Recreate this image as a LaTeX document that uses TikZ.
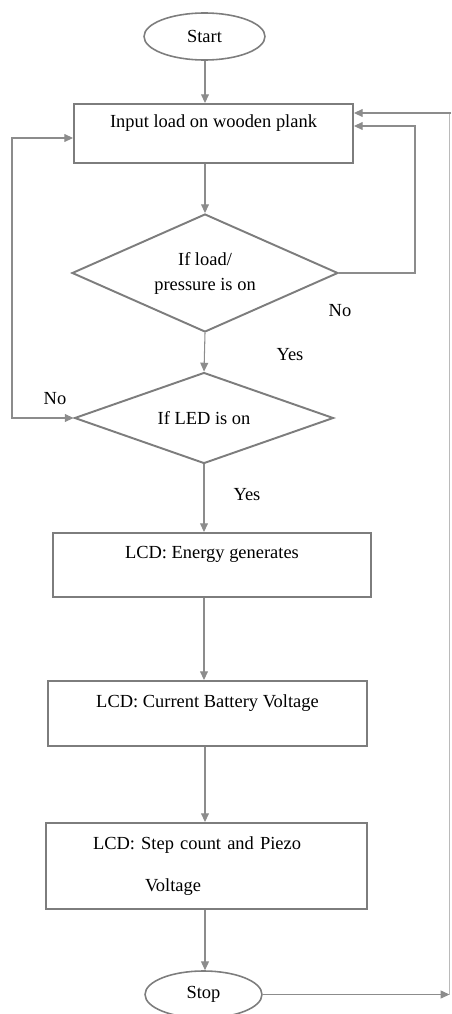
\documentclass[tikz,border=0pt]{standalone}
\usepackage{fontspec}
\setmainfont{Liberation Serif}
\usetikzlibrary{shapes.geometric,arrows.meta}
\definecolor{linegray}{RGB}{140,140,140}
\definecolor{boxgray}{RGB}{125,125,125}
\begin{document}
\begin{tikzpicture}[x=0.02cm, y=-0.02cm,
	font=\fontsize{10.5}{12.6}\selectfont,
	term/.style={draw=boxgray, line width=0.9pt, ellipse, minimum width=24.2mm, minimum height=9.4mm, inner sep=0pt},
	box/.style={draw=boxgray, line width=1.1pt, rectangle, inner ysep=0pt},
	test/.style={draw=boxgray, line width=1.1pt, diamond, aspect=2.25, inner sep=0pt, align=center},
	flow/.style={draw=linegray, line width=0.6pt, -{Triangle[length=5pt,width=4.5pt]}},
	both/.style={draw=linegray, line width=0.6pt, {Triangle[length=5pt,width=4.5pt]}-{Triangle[length=5pt,width=4.5pt]}}
]
\useasboundingbox (0,0) rectangle (451,1014);
\node[term] (0) at (204.5, 36.5){Start};
\node[box, minimum width=55.8mm, text height=4.6mm, text depth=7.2mm] (1) at (213.5, 133.5){Input load on wooden plank};
\node[test, minimum width=53.2mm, minimum height=23.6mm] (2) at (205, 273){If load/\\[1.6pt]pressure is on};
\node[test, minimum width=51.8mm, minimum height=18.2mm] (3) at (204, 418){If LED is on};
\node[box, minimum width=63.6mm, text height=5mm, text depth=7.8mm] (4) at (212, 565){LCD: Energy generates};
\node[box, minimum width=63.8mm, text height=5.2mm, text depth=7.8mm] (5) at (207.5, 713.5){LCD: Current Battery Voltage};
\node[box, minimum height=17.2mm, inner xsep=9.4mm, text width=45.4mm, align=left] (6) at (206.5, 866){LCD: Step count and Piezo\\[11.3pt]\hspace*{10.4mm}Voltage};
\node[term, minimum width=23.4mm] (7) at (203.5, 994.5){Stop};
\node (8) at (340, 311){No};
\node (9) at (290, 355){Yes};
\node (10) at (55, 399){No};
\node (11) at (247, 495){Yes};
\coordinate (a) at (415, 126);
\coordinate (b) at (12, 138);
\coordinate (c) at (449.5, 113);
\draw[flow] (2.north |- 0.south) -- (2.north |- 1.north);
\draw[flow] (2.north |- 1.south) -- (2.north);
\draw[flow] (2.south) -- (3.north);
\draw[flow] (3.south) -- (3.south |- 4.north);
\draw[flow] (3.south |- 4.south) -- (3.south |- 5.north);
\draw[flow] (2.south |- 5.south) -- (2.south |- 6.north);
\draw[flow] (2.south |- 6.south) -- (2.south |- 7.north);
\draw[flow] (2.east) -| (a) -- (a -| 1.east);
\draw[both] (3.west) -| (b) -- (b -| 1.west);
\draw[flow] (7.east) -- (7.east -| c);
\draw[draw=linegray!60, line width=0.5pt] (7.east -| c) -- (c);
\draw[flow] (451, 113) -- (c -| 1.east);
\end{tikzpicture}
\end{document}
